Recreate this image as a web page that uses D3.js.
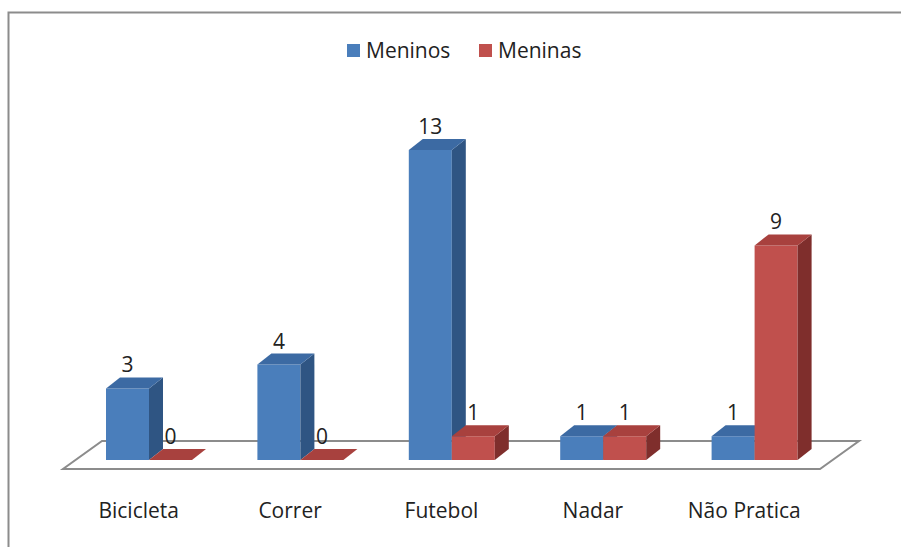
<!DOCTYPE html>
<html>
<head>
<meta charset="utf-8">
<script src="https://cdn.jsdelivr.net/npm/d3@7"></script>
<style>
  body { margin: 0; background: #fff; }
  text { font-family: "Open Sans", Lato, sans-serif; fill: #222; }
</style>
</head>
<body>
<div id="chart-container"></div>
<script>
// data
const categories = ["Bicicleta", "Correr", "Futebol", "Nadar", "Não Pratica"];
const seriesNames = ["Meninos", "Meninas"];
const meninos = [3, 4, 13, 1, 1];
const meninas = [0, 0, 1, 1, 9];

const svgWidth = 901;
const svgHeight = 547;

// fake 3d offsets
const depth = { dx: 14, dy: 11 };
const floorDepth = { dx: 39, dy: 28 };
const barW = 43;
const fontSize = "21px";

const colors = {
    Meninos: { front: "#4a7ebb", top: "#3c6aa3", side: "#2f5583" },
    Meninas: { front: "#c0504d", top: "#a8413e", side: "#7f2e2c" }
};

const svg = d3.select("#chart-container")
    .append("svg")
    .attr("width", svgWidth)
    .attr("height", svgHeight);

// chart border (right and bottom run off the picture)
svg.append("rect")
    .attr("x", 8.5)
    .attr("y", 12.5)
    .attr("width", 1000)
    .attr("height", 1000)
    .attr("fill", "none")
    .attr("stroke", "#8c8c8c")
    .attr("stroke-width", 2);

const x = d3.scaleBand()
    .domain(categories)
    .range([63, 820]);

const y = d3.scaleLinear()
    .domain([0, 13])
    .range([460, 150]);

// floor
const floorY = 469;
const fx0 = x.range()[0], fx1 = x.range()[1];
svg.append("polygon")
    .attr("points", [
        [fx0, floorY], [fx1, floorY],
        [fx1 + floorDepth.dx, floorY - floorDepth.dy],
        [fx0 + floorDepth.dx, floorY - floorDepth.dy]
    ].join(" "))
    .attr("fill", "#fff")
    .attr("stroke", "#8c8c8c")
    .attr("stroke-width", 2);

const data = [];
categories.forEach((c, i) => {
    data.push({ cat: c, series: "Meninos", value: meninos[i], k: 0 });
    data.push({ cat: c, series: "Meninas", value: meninas[i], k: 1 });
});

const bars = svg.selectAll(".bar")
    .data(data)
    .enter()
    .append("g")
    .attr("class", "bar");

const x0 = d => x(d.cat) + barW * (d.k + 1);
const x1 = d => x0(d) + barW;
const yb = y(0);

bars.append("polygon") // front
    .attr("points", d => [[x0(d), y(d.value)], [x1(d), y(d.value)], [x1(d), yb], [x0(d), yb]].join(" "))
    .attr("fill", d => colors[d.series].front);

bars.append("polygon") // side
    .attr("points", d => [
        [x1(d), y(d.value)], [x1(d) + depth.dx, y(d.value) - depth.dy],
        [x1(d) + depth.dx, yb - depth.dy], [x1(d), yb]
    ].join(" "))
    .attr("fill", d => colors[d.series].side);

bars.append("polygon") // top
    .attr("points", d => [
        [x0(d), y(d.value)], [x1(d), y(d.value)],
        [x1(d) + depth.dx, y(d.value) - depth.dy], [x0(d) + depth.dx, y(d.value) - depth.dy]
    ].join(" "))
    .attr("fill", d => colors[d.series].top);

// value labels
svg.selectAll(".val")
    .data(data)
    .enter()
    .append("text")
    .attr("class", "val")
    .attr("x", d => (x0(d) + x1(d)) / 2)
    .attr("y", d => y(d.value) - depth.dy - 5)
    .attr("text-anchor", "middle")
    .style("font-size", fontSize)
    .text(d => d.value);

// category labels
svg.selectAll(".cat")
    .data(categories)
    .enter()
    .append("text")
    .attr("class", "cat")
    .attr("x", d => x(d) + x.bandwidth() / 2)
    .attr("y", 518)
    .attr("text-anchor", "middle")
    .style("font-size", fontSize)
    .text(d => d);

// legend
const legendX = [347, 479];
const legend = svg.selectAll(".legend")
    .data(seriesNames)
    .enter()
    .append("g")
    .attr("class", "legend")
    .attr("transform", (d, i) => `translate(${legendX[i]}, 44)`);

legend.append("rect")
    .attr("width", 13)
    .attr("height", 13)
    .attr("fill", d => colors[d].front);

legend.append("text")
    .attr("x", 19)
    .attr("y", 14)
    .style("font-size", fontSize)
    .text(d => d);
</script>
</body>
</html>
